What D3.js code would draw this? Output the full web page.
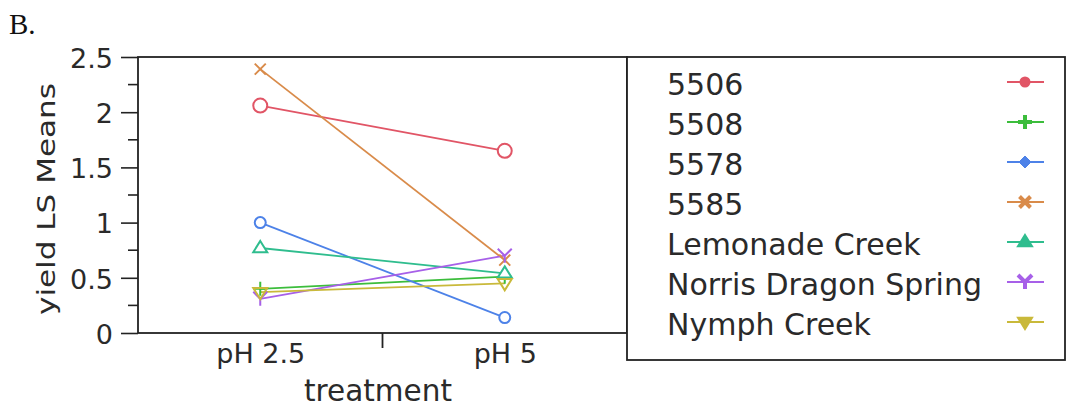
<!DOCTYPE html>
<html><head><meta charset="utf-8">
<script src="https://cdn.jsdelivr.net/npm/d3@7"></script>
<style>body{margin:0;background:#fff}svg{display:block}</style>
</head><body>
<script>
const categories = ["pH 2.5", "pH 5"];
const seriesNames = ["5506", "5508", "5578", "5585", "Lemonade Creek", "Norris Dragon Spring", "Nymph Creek"];
const v5506 = [2.06, 1.65];
const v5508 = [0.40, 0.51];
const v5578 = [1.00, 0.14];
const v5585 = [2.39, 0.66];
const vLemonade = [0.77, 0.54];
const vNorris = [0.31, 0.70];
const vNymph = [0.37, 0.45];
const yTicks = [0, 0.5, 1, 1.5, 2, 2.5];
const yTickLabels = ["0", "0.5", "1", "1.5", "2", "2.5"];

const colors = ["#e15566", "#3cbd3c", "#4d82e8", "#d98b4a", "#2fbd8e", "#a760e8", "#c9b93a"];
const markers = ["circleBig", "plus", "circle", "x", "triangle", "ystar", "triDown"];
const values = [v5506, v5508, v5578, v5585, vLemonade, vNorris, vNymph];

const W = 1067, H = 413;
const m = {l: 138, r: 627, t: 57, b: 333};
const svg = d3.select("body").append("svg").attr("width", W).attr("height", H);
const font = "'DejaVu Sans', Verdana, sans-serif";
const txt = "#2a2a2a";

const x = d3.scalePoint().domain(categories).range([m.l, m.r]).padding(0.5);
const y = d3.scaleLinear().domain([0, 2.5]).range([m.b, m.t]);

// B. label
svg.append("text").attr("x", 9).attr("y", 34).attr("font-family", "'Liberation Serif', 'Times New Roman', serif")
  .attr("font-size", 29).attr("fill", "#111").text("B.");

// frame
svg.append("rect").attr("x", m.l).attr("y", m.t).attr("width", m.r - m.l).attr("height", m.b - m.t)
  .attr("fill", "none").attr("stroke", "#222").attr("stroke-width", 1.8);

// y axis
const yAxis = d3.axisLeft(y).tickValues(yTicks).tickFormat((d, i) => yTickLabels[i]).tickSize(17).tickPadding(8);
const ga = svg.append("g").attr("transform", `translate(${m.l},0)`).call(yAxis);
ga.select(".domain").remove();
ga.selectAll("line").attr("stroke", "#222").attr("stroke-width", 1.6);
ga.selectAll("text").attr("font-family", font).attr("font-size", 27).attr("fill", txt).attr("dy", "0.38em");
const minor = d3.range(0.25, 2.5, 0.5);
svg.append("g").selectAll("line").data(minor).join("line")
  .attr("x1", m.l - 10).attr("x2", m.l).attr("y1", d => y(d)).attr("y2", d => y(d))
  .attr("stroke", "#222").attr("stroke-width", 1.6);

// x axis
const gx = svg.append("g").attr("transform", `translate(0,${m.b})`)
  .call(d3.axisBottom(x).tickSize(0).tickPadding(11));
gx.select(".domain").remove();
gx.selectAll("text").attr("font-family", font).attr("font-size", 27).attr("fill", txt);
const mid = (x(categories[0]) + x(categories[1])) / 2;
svg.append("line").attr("x1", mid).attr("x2", mid).attr("y1", m.b).attr("y2", m.b + 15)
  .attr("stroke", "#222").attr("stroke-width", 1.8);

svg.append("text").attr("x", 378).attr("y", 401).attr("text-anchor", "middle")
  .attr("font-family", font).attr("font-size", 29.5).attr("fill", txt).text("treatment");
svg.append("text").attr("transform", `translate(55,199) rotate(-90)`).attr("text-anchor", "middle")
  .attr("font-family", font).attr("font-size", 25).attr("fill", txt)
  .attr("textLength", 232).attr("lengthAdjust", "spacingAndGlyphs").text("yield LS Means");

function drawMarker(g, type, cx, cy, c, filled) {
  if (type === "circleBig" || (type === "circle" && !filled)) {
    const r = filled ? 4.5 : (type === "circleBig" ? 7 : 5.5);
    g.append("circle").attr("cx", cx).attr("cy", cy).attr("r", r)
      .attr("fill", filled ? c : "#fff").attr("stroke", c).attr("stroke-width", 2);
  } else if (type === "circle") {
    const s = 6;
    g.append("path").attr("d", `M${cx},${cy - s}L${cx + s},${cy}L${cx},${cy + s}L${cx - s},${cy}Z`)
      .attr("fill", c).attr("stroke", c).attr("stroke-width", 1);
  } else if (type === "plus") {
    const s = 7;
    g.append("path").attr("d", `M${cx - s},${cy}H${cx + s}M${cx},${cy - s}V${cy + s}`)
      .attr("stroke", c).attr("stroke-width", filled ? 4 : 2);
  } else if (type === "x") {
    const s = 5.5;
    g.append("path").attr("d", `M${cx - s},${cy - s}L${cx + s},${cy + s}M${cx - s},${cy + s}L${cx + s},${cy - s}`)
      .attr("stroke", c).attr("stroke-width", filled ? 4 : 2);
  } else if (type === "triangle") {
    const s = 7;
    g.append("path").attr("d", `M${cx},${cy - s}L${cx + s},${cy + s * 0.6}L${cx - s},${cy + s * 0.6}Z`)
      .attr("fill", filled ? c : "#fff").attr("stroke", c).attr("stroke-width", 2);
  } else if (type === "triDown") {
    const s = 7;
    g.append("path").attr("d", `M${cx - s},${cy - s * 0.6}L${cx + s},${cy - s * 0.6}L${cx},${cy + s}Z`)
      .attr("fill", filled ? c : "none").attr("stroke", c).attr("stroke-width", 2);
  } else if (type === "ystar") {
    const s = 7;
    g.append("path").attr("d", `M${cx - s},${cy - s}L${cx},${cy}L${cx + s},${cy - s}M${cx},${cy}V${cy + s}`)
      .attr("fill", "none").attr("stroke", c).attr("stroke-width", filled ? 4 : 2);
  }
}

const line = d3.line().x((d, i) => x(categories[i])).y(d => y(d));
const plot = svg.append("g");
values.forEach((vals, k) => {
  plot.append("path").datum(vals).attr("d", line).attr("fill", "none")
    .attr("stroke", colors[k]).attr("stroke-width", 1.8);
});
values.forEach((vals, k) => {
  vals.forEach((v, i) => drawMarker(plot, markers[k], x(categories[i]), y(v), colors[k], false));
});

// legend
const lg = svg.append("g");
lg.append("rect").attr("x", 627).attr("y", 57).attr("width", 438).attr("height", 303)
  .attr("fill", "#fff").attr("stroke", "#222").attr("stroke-width", 1.8);
seriesNames.forEach((name, k) => {
  const cy = 82 + k * 40;
  lg.append("text").attr("x", 667).attr("y", cy + 13).attr("font-family", font).attr("font-size", 30)
    .attr("fill", txt).text(name);
  lg.append("line").attr("x1", 1007).attr("x2", 1044).attr("y1", cy).attr("y2", cy)
    .attr("stroke", colors[k]).attr("stroke-width", 2.2);
  drawMarker(lg, markers[k], 1025, cy, colors[k], true);
});
</script>
</body></html>
